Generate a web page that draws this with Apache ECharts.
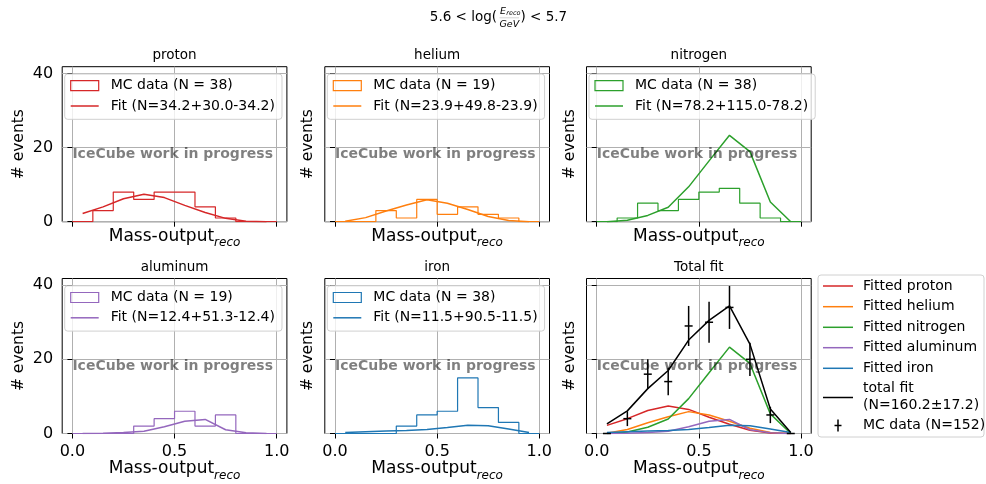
<!DOCTYPE html>
<html><head><meta charset="utf-8">
<script src="https://cdn.jsdelivr.net/npm/echarts@6/dist/echarts.min.js"></script>
<style>html,body{margin:0;padding:0;background:#fff}#c{width:986px;height:484px}</style>
</head><body><div id="c"></div>
<script>
// ---------------- data ----------------
const binEdges   = [0.0, 0.1, 0.2, 0.3, 0.4, 0.5, 0.6, 0.7, 0.8, 0.9, 1.0];
const binCenters = [0.05, 0.15, 0.25, 0.35, 0.45, 0.55, 0.65, 0.75, 0.85, 0.95];
const panelTitles = ['proton', 'helium', 'nitrogen', 'aluminum', 'iron', 'Total fit'];

const protonHist   = [0, 3, 8, 6, 8, 8, 4, 1, 0, 0];
const heliumHist   = [0, 0, 3, 1, 6, 2, 4, 2, 1, 0];
const nitrogenHist = [0, 1, 5, 3, 6, 8, 9, 5, 1, 0];
const aluminumHist = [0, 0, 0, 2, 4, 6, 2, 5, 0, 0];
const ironHist     = [0, 0, 0, 2, 5, 6, 15, 7, 3, 0];

const protonFit   = [2.2, 4.0, 6.2, 7.4, 6.5, 4.4, 2.5, 0.9, 0.1, 0.0];
const heliumFit   = [0.1, 1.1, 2.9, 4.5, 5.9, 5.0, 3.3, 1.4, 0.3, 0.0];
const nitrogenFit = [0.0, 0.4, 1.7, 3.9, 9.4, 16.4, 23.3, 18.9, 5.3, 0.0];
const aluminumFit = [0.0, 0.1, 0.3, 0.6, 1.8, 3.3, 3.8, 1.0, 0.2, 0.0];
const ironFit     = [0.3, 0.5, 0.7, 0.8, 1.1, 1.6, 2.2, 2.1, 1.2, 0.3];
const totalFit    = [2.6, 6.1, 12.1, 17.0, 25.2, 30.5, 34.4, 24.1, 6.6, 0.3];

const mcData = [0, 4, 16, 14, 29, 30, 34, 20, 5, 0];
const mcErr  = [0, 2.0, 4.0, 3.7, 5.4, 5.5, 5.8, 4.5, 2.2, 0];

const histLabels = ['MC data (N = 38)', 'MC data (N = 19)', 'MC data (N = 38)', 'MC data (N = 19)', 'MC data (N = 38)'];
const fitLabels  = ['Fit (N=34.2+30.0-34.2)', 'Fit (N=23.9+49.8-23.9)', 'Fit (N=78.2+115.0-78.2)', 'Fit (N=12.4+51.3-12.4)', 'Fit (N=11.5+90.5-11.5)'];
const totalLegendLabels = ['Fitted proton', 'Fitted helium', 'Fitted nitrogen', 'Fitted aluminum', 'Fitted iron'];
const totalFitLabel = ['total fit', '(N=160.2\u00b117.2)'];
const mcDataLabel = 'MC data (N=152)';
const watermark = 'IceCube work in progress';

const xTicks = [0.0, 0.5, 1.0];
const yTicks = [0, 20, 40];

// ---------------- layout / style ----------------
const FONT = '"DejaVu Sans", sans-serif';
const COLORS = ['#d62728', '#ff7f0e', '#2ca02c', '#9467bd', '#1f77b4'];
const GL = [62.2, 324.8, 586.5], GT = [66.7, 278.5], GW = 224.7, GH = 155;
const XMIN = -0.05, XMAX = 1.05, YMIN = 0, YMAX = 41.8;
const hists = [protonHist, heliumHist, nitrogenHist, aluminumHist, ironHist];
const fits  = [protonFit, heliumFit, nitrogenFit, aluminumFit, ironFit];

const mc = document.createElement('canvas').getContext('2d');
function measure(t, px) { mc.font = px + 'px "DejaVu Sans"'; return mc.measureText(t).width; }

const grids = [], xAxes = [], yAxes = [], series = [], graphics = [];

for (let i = 0; i < 6; i++) {
  const col = i % 3, row = Math.floor(i / 3);
  grids.push({left: GL[col], top: GT[row], width: GW, height: GH, show: true,
    borderColor: '#000', borderWidth: 1, backgroundColor: 'transparent'});
  xAxes.push({
    gridIndex: i, type: 'value', min: XMIN, max: XMAX,
    axisLine: {show: false},
    axisTick: {show: true, customValues: xTicks, length: 5, lineStyle: {color: '#000', width: 1}},
    axisLabel: {show: row === 1, customValues: xTicks, formatter: v => v.toFixed(1),
      fontSize: 16, color: '#000', fontFamily: FONT, margin: 10},
    splitLine: {show: true, lineStyle: {color: '#b0b0b0', width: 1}},
    name: '{a|Mass-output}{b|reco}', nameLocation: 'middle', nameGap: row === 1 ? 27 : 6,
    nameTextStyle: {color: '#000', fontFamily: FONT, rich: {
      a: {fontSize: 17, fontFamily: FONT, color: '#000', verticalAlign: 'bottom', padding: [0, 0, 4, 0]},
      b: {fontSize: 12, fontFamily: FONT, fontStyle: 'italic', color: '#000', verticalAlign: 'bottom'}
    }}
  });
  yAxes.push({
    gridIndex: i, type: 'value', min: YMIN, max: YMAX,
    axisLine: {show: false},
    axisTick: {show: true, customValues: yTicks, length: 5, lineStyle: {color: '#000', width: 1}},
    axisLabel: {show: col === 0, customValues: yTicks, fontSize: 16, color: '#000', fontFamily: FONT, margin: 9},
    splitLine: {show: true, lineStyle: {color: '#b0b0b0', width: 1}},
    name: '# events', nameLocation: 'middle', nameRotate: 90, nameGap: col === 0 ? 35 : 9,
    nameTextStyle: {fontSize: 15.5, color: '#000', fontFamily: FONT}
  });

  // panel title
  graphics.push({type: 'text', x: GL[col] + GW / 2, y: GT[row] - 11.5, z: 100,
    style: {text: panelTitles[i], font: '13.5px ' + FONT, fill: '#000', align: 'center', verticalAlign: 'middle',
      textAlign: 'center', textVerticalAlign: 'middle'}});
  // watermark
  graphics.push({type: 'text', x: GL[col] + GW * (0 - XMIN) / (XMAX - XMIN), y: GT[row] + GH * (1 - 18.2 / YMAX), z: 90,
    style: {text: watermark, font: 'bold 14px ' + FONT, fill: 'rgba(0,0,0,0.5)', align: 'left', verticalAlign: 'middle',
      textAlign: 'left', textVerticalAlign: 'middle'}});
}

// single-species panels
for (let i = 0; i < 5; i++) {
  const h = hists[i];
  const stepData = [[binEdges[0], 0]].concat(binEdges.slice(0, -1).map((e, k) => [e, h[k]])).concat([[binEdges[binEdges.length - 1], 0]]);
  series.push({type: 'line', xAxisIndex: i, yAxisIndex: i, step: 'end', data: stepData, symbol: 'none',
    lineStyle: {color: COLORS[i], width: 1.2}, silent: true, z: 3});
  series.push({type: 'line', xAxisIndex: i, yAxisIndex: i, data: binCenters.map((x, k) => [x, fits[i][k]]), symbol: 'none',
    lineStyle: {color: COLORS[i], width: 1.5}, silent: true, z: 4});

  const col = i % 3, row = Math.floor(i / 3);
  const bx = GL[col] + 2.5, by = GT[row] + 7.3;
  const tw = Math.max(measure(histLabels[i], 14), measure(fitLabels[i], 14));
  const bw = 46 + tw + 7, bh = 45.3;
  graphics.push(
    {type: 'rect', z: 110, shape: {x: bx, y: by, width: bw, height: bh, r: 3},
      style: {fill: 'rgba(255,255,255,0.8)', stroke: '#d0d0d0', lineWidth: 1}},
    {type: 'rect', z: 111, shape: {x: bx + 6, y: by + 6.7, width: 28, height: 10},
      style: {fill: 'none', stroke: COLORS[i], lineWidth: 1.2}},
    {type: 'text', z: 111, x: bx + 46, y: by + 11.7,
      style: {text: histLabels[i], font: '14px ' + FONT, fill: '#000', verticalAlign: 'middle', textVerticalAlign: 'middle'}},
    {type: 'line', z: 111, shape: {x1: bx + 6, y1: by + 32, x2: bx + 34, y2: by + 32},
      style: {stroke: COLORS[i], lineWidth: 1.5}},
    {type: 'text', z: 111, x: bx + 46, y: by + 32,
      style: {text: fitLabels[i], font: '14px ' + FONT, fill: '#000', verticalAlign: 'middle', textVerticalAlign: 'middle'}}
  );
}

// total fit panel
for (let i = 0; i < 5; i++) {
  series.push({type: 'line', xAxisIndex: 5, yAxisIndex: 5, data: binCenters.map((x, k) => [x, fits[i][k]]), symbol: 'none',
    lineStyle: {color: COLORS[i], width: 1.5}, silent: true, z: 3});
}
series.push({type: 'line', xAxisIndex: 5, yAxisIndex: 5, data: binCenters.map((x, k) => [x, totalFit[k]]), symbol: 'none',
  lineStyle: {color: '#000', width: 1.5}, silent: true, z: 4});
series.push({type: 'custom', xAxisIndex: 5, yAxisIndex: 5, z: 5, silent: true,
  data: binCenters.map((x, k) => [x, mcData[k], mcErr[k]]),
  encode: {x: 0, y: 1},
  renderItem: (params, api) => {
    const x = api.value(0), y = api.value(1), e = api.value(2);
    const t = api.coord([x, y + e]), b = api.coord([x, Math.max(0, y - e)]), c = api.coord([x, y]);
    return {type: 'group', children: [
      {type: 'line', shape: {x1: t[0], y1: t[1], x2: b[0], y2: b[1]}, style: {stroke: '#000', lineWidth: 1.5}},
      {type: 'line', shape: {x1: c[0] - 4, y1: c[1], x2: c[0] + 4, y2: c[1]}, style: {stroke: '#000', lineWidth: 1.5}}
    ]};
  }
});

// right legend
(function () {
  const bx = 818, by = 275, bw = 166, bh = 162;
  graphics.push({type: 'rect', z: 110, shape: {x: bx, y: by, width: bw, height: bh, r: 3},
    style: {fill: 'rgba(255,255,255,0.8)', stroke: '#d0d0d0', lineWidth: 1}});
  const rowsY = [286, 306.7, 327.3, 347.7, 368.3];
  for (let i = 0; i < 5; i++) {
    graphics.push(
      {type: 'line', z: 111, shape: {x1: bx + 5, y1: rowsY[i], x2: bx + 35, y2: rowsY[i]}, style: {stroke: COLORS[i], lineWidth: 1.5}},
      {type: 'text', z: 111, x: bx + 45, y: rowsY[i],
        style: {text: totalLegendLabels[i], font: '14px ' + FONT, fill: '#000', verticalAlign: 'middle', textVerticalAlign: 'middle'}});
  }
  graphics.push(
    {type: 'line', z: 111, shape: {x1: bx + 5, y1: 397.5, x2: bx + 35, y2: 397.5}, style: {stroke: '#000', lineWidth: 1.5}},
    {type: 'text', z: 111, x: bx + 45, y: 388.5,
      style: {text: totalFitLabel[0], font: '14px ' + FONT, fill: '#000', verticalAlign: 'middle', textVerticalAlign: 'middle'}},
    {type: 'text', z: 111, x: bx + 45, y: 405,
      style: {text: totalFitLabel[1], font: '14px ' + FONT, fill: '#000', verticalAlign: 'middle', textVerticalAlign: 'middle'}},
    {type: 'line', z: 111, shape: {x1: bx + 20, y1: 419.5, x2: bx + 20, y2: 431.5}, style: {stroke: '#000', lineWidth: 1.5}},
    {type: 'line', z: 111, shape: {x1: bx + 16.5, y1: 425.5, x2: bx + 23.5, y2: 425.5}, style: {stroke: '#000', lineWidth: 1.5}},
    {type: 'text', z: 111, x: bx + 45, y: 425.5,
      style: {text: mcDataLabel, font: '14px ' + FONT, fill: '#000', verticalAlign: 'middle', textVerticalAlign: 'middle'}}
  );
})();

// suptitle: 5.6 < log(E_reco/GeV) < 5.7
graphics.push(
  {type: 'text', z: 100, x: 497, y: 17,
    style: {text: '5.6 < log(', font: '13.5px ' + FONT, fill: '#000', align: 'right', verticalAlign: 'middle', textAlign: 'right', textVerticalAlign: 'middle'}},
  {type: 'text', z: 100, x: 500, y: 11.5,
    style: {text: 'E', font: 'italic 9.5px ' + FONT, fill: '#000', align: 'left', verticalAlign: 'middle', textAlign: 'left', textVerticalAlign: 'middle'}},
  {type: 'text', z: 100, x: 506.3, y: 13.8,
    style: {text: 'reco', font: 'italic 6.5px ' + FONT, fill: '#000', align: 'left', verticalAlign: 'middle', textAlign: 'left', textVerticalAlign: 'middle'}},
  {type: 'line', z: 100, shape: {x1: 499.5, y1: 17.8, x2: 519, y2: 17.8}, style: {stroke: 'rgba(0,0,0,0.35)', lineWidth: 0.5}},
  {type: 'text', z: 100, x: 499.5, y: 24.3,
    style: {text: 'GeV', font: 'italic 9.5px ' + FONT, fill: '#000', align: 'left', verticalAlign: 'middle', textAlign: 'left', textVerticalAlign: 'middle'}},
  {type: 'text', z: 100, x: 520.5, y: 17,
    style: {text: ') < 5.7', font: '13.5px ' + FONT, fill: '#000', align: 'left', verticalAlign: 'middle', textAlign: 'left', textVerticalAlign: 'middle'}}
);

const chart = echarts.init(document.getElementById('c'), null, {renderer: 'canvas'});
chart.setOption({
  animation: false,
  backgroundColor: '#fff',
  textStyle: {fontFamily: FONT},
  grid: grids, xAxis: xAxes, yAxis: yAxes, series: series, graphic: graphics
});
</script>
</body></html>
